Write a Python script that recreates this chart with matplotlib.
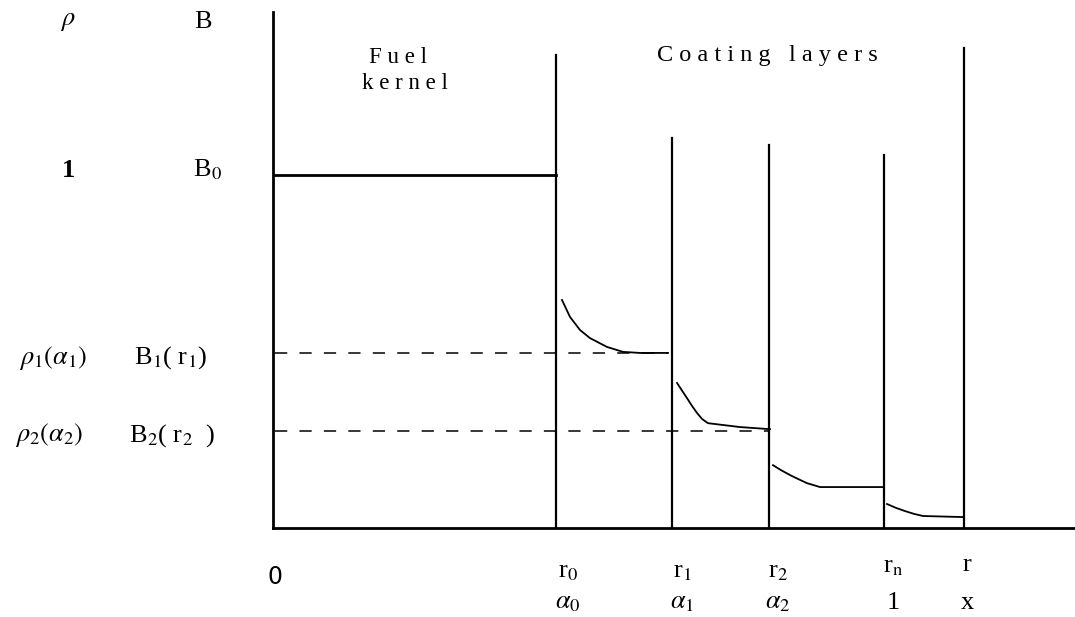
import matplotlib
matplotlib.use("Agg")
import matplotlib.pyplot as plt

plt.rcParams['font.family'] = ['Liberation Serif', 'DejaVu Serif']
plt.rcParams['mathtext.fontset'] = 'stix'

# layer boundaries r0, r1, r2, rn, r (radius units) and heights of the walls
boundaries = [283, 399, 496, 611, 691]
wall_tops = [1.34, 1.105, 1.085, 1.057, 1.36]
kernel_level = 1.0

# density profile inside each coating layer
c1_x = [289, 297, 307, 317, 334, 350, 367, 395]
c1_y = [0.646, 0.598, 0.561, 0.538, 0.513, 0.499, 0.496, 0.496]
c2_x = [404, 414, 419, 424, 429, 435, 467, 497]
c2_y = [0.411, 0.368, 0.346, 0.326, 0.309, 0.297, 0.286, 0.280]
c3_x = [500, 508, 517, 525, 534, 540, 547, 577, 610]
c3_y = [0.178, 0.164, 0.150, 0.139, 0.127, 0.122, 0.116, 0.116, 0.116]
c4_x = [614, 623, 632, 641, 650, 690]
c4_y = [0.068, 0.057, 0.048, 0.040, 0.034, 0.031]

dash_levels = [0.495, 0.275]
dash_ends = [395, 497]

r_labels = ['r$_0$', 'r$_1$', 'r$_2$', 'r$_{\\mathrm{n}}$', 'r']
a_labels = [r'$\alpha_0$', r'$\alpha_1$', r'$\alpha_2$', '1', 'x']
rho_labels = [r'$\rho$', '1', r'$\rho_1(\alpha_1)$', r'$\rho_2(\alpha_2)$']
b_labels = ['B', 'B$_0$', 'B$_1$( r$_1$)', 'B$_2$( r$_2$  )']
label_levels = [1.433, 1.014, 0.482, 0.263]
rho_x = [-205, -205, -220, -224]
b_x = [-70, -66, -102, -101]

fig = plt.figure(figsize=(10.75, 6.17), dpi=100)
ax = fig.add_axes([273 / 1075, 89 / 617, 802 / 1075, 516 / 617])
ax.set_xlim(0, 802)
ax.set_ylim(0, 1.462)
for s in ['top', 'right']:
    ax.spines[s].set_visible(False)
for s in ['left', 'bottom']:
    ax.spines[s].set_linewidth(2)
ax.set_xticks([])
ax.set_yticks([])

# fuel kernel level
ax.plot([0, boundaries[0]], [kernel_level, kernel_level], color='black', lw=2)

# layer walls
for xb, top in zip(boundaries, wall_tops):
    ax.plot([xb, xb], [0, top], color='black', lw=1.6)

for cx, cy in [(c1_x, c1_y), (c2_x, c2_y), (c3_x, c3_y), (c4_x, c4_y)]:
    ax.plot(cx, cy, color='black', lw=1.3)

for lev, xe in zip(dash_levels, dash_ends):
    ax.plot([2, xe], [lev, lev], color='black', lw=1.1, dashes=(8, 8))

# left labels
for lab, xl, lev in zip(rho_labels, rho_x, label_levels):
    ax.text(xl, lev, lab, ha='center', va='center', fontsize=19,
            fontweight='bold' if lab == '1' else 'normal')
for lab, xl, lev in zip(b_labels, b_x, label_levels):
    ax.text(xl, lev, lab, ha='center', va='center', fontsize=19)

# bottom labels
offsets = [12, 10, 9, 9, 3]
r_rows = [-0.125, -0.125, -0.125, -0.11, -0.105]
for xb, off, lab, yr in zip(boundaries, offsets, r_labels, r_rows):
    ax.text(xb + off, yr, lab, ha='center', va='center', fontsize=19)
for xb, off, lab in zip(boundaries, offsets, a_labels):
    ax.text(xb + off, -0.212, lab, ha='center', va='center', fontsize=19)
ax.text(2, -0.139, '0', ha='center', va='center', fontsize=17,
        family='DejaVu Sans')

ax.text(125, 1.334, 'F u e l', ha='center', va='center', fontsize=16.5)
ax.text(132, 1.26, 'k e r n e l', ha='center', va='center', fontsize=16.5)
ax.text(494, 1.34, 'C o a t i n g   l a y e r s', ha='center', va='center', fontsize=17.5)

fig.savefig('out.png', dpi=100)
